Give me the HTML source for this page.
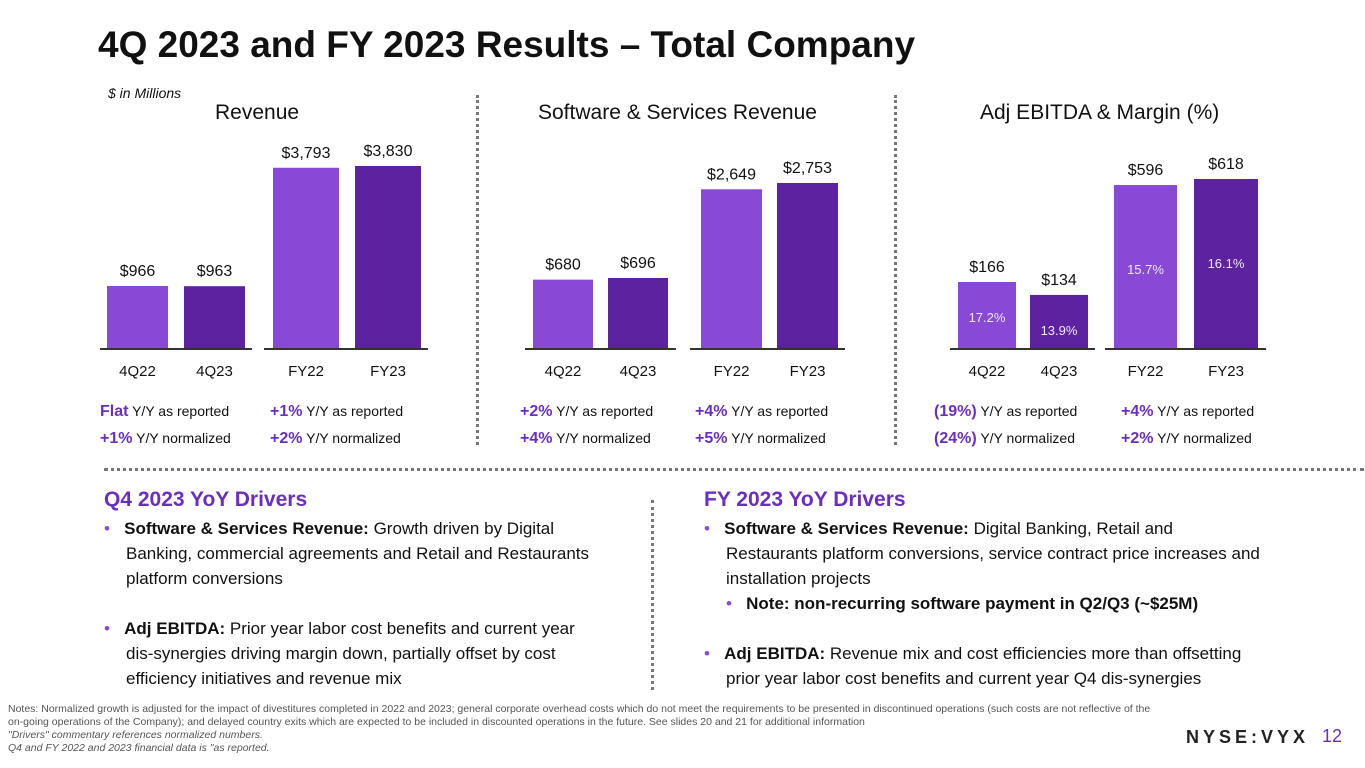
<!DOCTYPE html>
<html><head><meta charset="utf-8">
<style>
body{margin:0;width:1365px;height:768px;background:#fff;font-family:"Liberation Sans",sans-serif;position:relative;overflow:hidden;color:#111}
.t{position:absolute;white-space:nowrap}
h1{position:absolute;left:98px;top:24px;margin:0;font-size:37px;font-weight:bold;color:#111}
.ptitle{font-size:21px;color:#111}
.p{color:#6a2fc0;font-weight:bold}
.dv{position:absolute;width:0;border-left:3px dotted #777}
.drv{font-size:17px;line-height:25px}
.drv b{font-weight:bold}
.dh{font-size:21px;font-weight:bold;color:#6a2fc0}
</style></head><body>
<h1>4Q 2023 and FY 2023 Results – Total Company</h1>
<div class="t" style="left:108px;top:85px;font-size:14px;font-style:italic">$ in Millions</div>
<div class="t ptitle" style="left:215px;top:101px">Revenue</div>
<div class="t ptitle" style="left:538px;top:101px">Software &amp; Services Revenue</div>
<div class="t ptitle" style="left:980px;top:101px">Adj EBITDA &amp; Margin (%)</div>
<div class="dv" style="left:476px;top:95px;height:350px"></div>
<div class="dv" style="left:894px;top:95px;height:350px"></div>
<div style="position:absolute;left:104px;top:468px;width:1260px;border-top:3px dotted #777"></div>
<div class="dv" style="left:651px;top:500px;height:190px"></div>
<svg id="chart" width="1365" height="460" style="position:absolute;left:0;top:0"></svg>

<div class="t" style="left:100px;top:398px;font-size:14px;line-height:27px"><span class="p" style="font-size:16px">Flat</span> Y/Y as reported<br><span class="p" style="font-size:16px">+1%</span> Y/Y normalized</div>
<div class="t" style="left:270px;top:398px;font-size:14px;line-height:27px"><span class="p" style="font-size:16px">+1%</span> Y/Y as reported<br><span class="p" style="font-size:16px">+2%</span> Y/Y normalized</div>
<div class="t" style="left:520px;top:398px;font-size:14px;line-height:27px"><span class="p" style="font-size:16px">+2%</span> Y/Y as reported<br><span class="p" style="font-size:16px">+4%</span> Y/Y normalized</div>
<div class="t" style="left:695px;top:398px;font-size:14px;line-height:27px"><span class="p" style="font-size:16px">+4%</span> Y/Y as reported<br><span class="p" style="font-size:16px">+5%</span> Y/Y normalized</div>
<div class="t" style="left:934px;top:398px;font-size:14px;line-height:27px"><span class="p" style="font-size:16px">(19%)</span> Y/Y as reported<br><span class="p" style="font-size:16px">(24%)</span> Y/Y normalized</div>
<div class="t" style="left:1121px;top:398px;font-size:14px;line-height:27px"><span class="p" style="font-size:16px">+4%</span> Y/Y as reported<br><span class="p" style="font-size:16px">+2%</span> Y/Y normalized</div>

<div class="t dh" style="left:104px;top:488px">Q4 2023 YoY Drivers</div>
<div class="t drv" style="left:104px;top:516px;width:500px;white-space:normal">
<div style="padding-left:22px;text-indent:-22px"><span style="color:#8a4ad6">•</span>&nbsp;&nbsp;&nbsp;<b>Software &amp; Services Revenue:</b> Growth driven by Digital Banking, commercial agreements and Retail and Restaurants platform conversions</div>
<div style="padding-left:22px;text-indent:-22px;margin-top:25px"><span style="color:#8a4ad6">•</span>&nbsp;&nbsp;&nbsp;<b>Adj EBITDA:</b> Prior year labor cost benefits and current year dis-synergies driving margin down, partially offset by cost efficiency initiatives and revenue mix</div></div>
<div class="t dh" style="left:704px;top:488px">FY 2023 YoY Drivers</div>
<div class="t drv" style="left:704px;top:516px;width:560px;white-space:normal">
<div style="padding-left:22px;text-indent:-22px"><span style="color:#8a4ad6">•</span>&nbsp;&nbsp;&nbsp;<b>Software &amp; Services Revenue:</b> Digital Banking, Retail and Restaurants platform conversions, service contract price increases and installation projects</div>
<div style="padding-left:22px"><span style="color:#8a4ad6">•</span>&nbsp;&nbsp;&nbsp;<b>Note: non-recurring software payment in Q2/Q3 (~$25M)</b></div>
<div style="padding-left:22px;text-indent:-22px;margin-top:25px"><span style="color:#8a4ad6">•</span>&nbsp;&nbsp;&nbsp;<b>Adj EBITDA:</b> Revenue mix and cost efficiencies more than offsetting prior year labor cost benefits and current year Q4 dis-synergies</div></div>

<div class="t" style="left:8px;top:703px;font-size:10.5px;line-height:13px;color:#555;white-space:normal;width:1160px">Notes: Normalized growth is adjusted for the impact of divestitures completed in 2022 and 2023; general corporate overhead costs which do not meet the requirements to be presented in discontinued operations (such costs are not reflective of the on-going operations of the Company); and delayed country exits which are expected to be included in discounted operations in the future. See slides 20 and 21 for additional information<br><i>"Drivers" commentary references normalized numbers.<br>Q4 and FY 2022 and 2023 financial data is "as reported.</i></div>
<div class="t" style="left:1186px;top:727px;font-size:18px;letter-spacing:4px;font-weight:bold;color:#222">NYSE:VYX</div>
<div class="t" style="left:1322px;top:726px;font-size:18px;color:#6a2fc0">12</div>

<script>
const categories = ["4Q22","4Q23","FY22","FY23"];
const revenueValues = [966, 963, 3793, 3830];
const softwareValues = [680, 696, 2649, 2753];
const ebitdaValues = [166, 134, 596, 618];
const marginValues = [17.2, 13.9, 15.7, 16.1];
const NS="http://www.w3.org/2000/svg";
const svg=document.getElementById('chart');
const baseY=349;
const panels=[
 {name:'revenue',vals:revenueValues,xs:[107,184,273,355],w:[61,61,66,66],k:[63/966,63/966,183/3830,183/3830],axes:[[100,252],[264,428]]},
 {name:'software',vals:softwareValues,xs:[533,608,701,777],w:[60,60,61,61],k:[71/696,71/696,166/2753,166/2753],axes:[[525,676],[690,845]]},
 {name:'ebitda',vals:ebitdaValues,xs:[958,1030,1114,1194],w:[58,58,63,64],k:[67/166,67/166,170/618,170/618],axes:[[950,1095],[1105,1266]],margins:marginValues}
];
const fmt=v=>'$'+v.toLocaleString('en-US');
function el(t,a){const e=document.createElementNS(NS,t);for(const k in a)e.setAttribute(k,a[k]);svg.appendChild(e);return e;}
panels.forEach(p=>{
 p.vals.forEach((v,i)=>{
  const h=v*p.k[i], x=p.xs[i], w=p.w[i];
  const r=el('rect',{x:x,y:baseY-h,width:w,height:h,fill:i%2?'#5d22a0':'#8a48d6'});
  
  
  const t=el('text',{x:x+w/2,y:baseY-h-10,'text-anchor':'middle','font-size':16,fill:'#111','font-family':'Liberation Sans'});
  t.textContent=fmt(v);
  
  
  const c=el('text',{x:x+w/2,y:376,'text-anchor':'middle','font-size':15,fill:'#111','font-family':'Liberation Sans'});
  c.textContent=categories[i];
  
  
  if(p.margins){
   const m=el('text',{x:x+w/2,y:i<2?baseY-h+40:baseY-h+89,'text-anchor':'middle','font-size':13,fill:'#f0e8ff','font-family':'Liberation Sans'});
   m.textContent=p.margins[i].toFixed(1)+'%';
   
   
  }
 });
 p.axes.forEach(a=>{
  const l=el('line',{x1:a[0],x2:a[1],y1:baseY,y2:baseY,stroke:'#333','stroke-width':2});
  
  
 });
});
</script>
</body></html>
